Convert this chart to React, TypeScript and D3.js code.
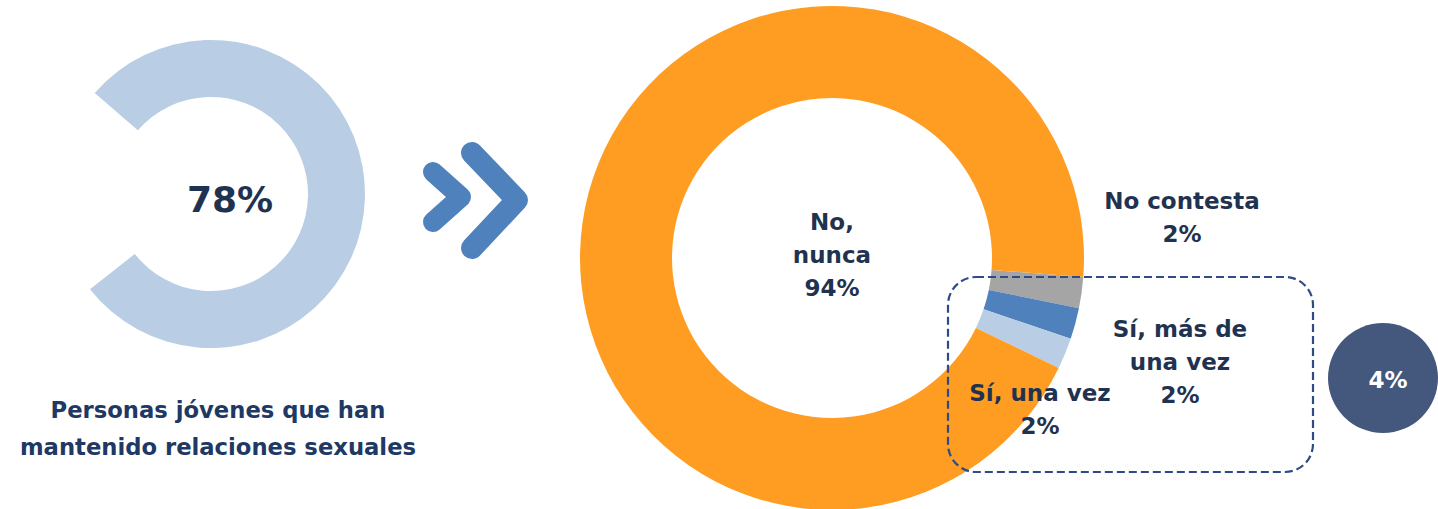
import React from "react";
import * as d3 from "d3";

// ---- data ----
const shareValue = 78; // % of young people who have had sexual relations
const shareLabel = "78%";
const shareCaption = ["Personas jóvenes que han", "mantenido relaciones sexuales"];

const categories = ["No contesta", "Sí, más de una vez", "Sí, una vez", "No, nunca"];
const values = [2, 2, 2, 94];
const valueLabels = ["2%", "2%", "2%", "94%"];
const categoryLines = [["No contesta"], ["Sí, más de", "una vez"], ["Sí, una vez"], ["No,", "nunca"]];
const groupedLabel = "4%";

// ---- styling / layout ----
const colors = ["#a5a5a5", "#4f81bd", "#b9cde5", "#fe9d22"];
const textColor = "#1f3350";
const FONT = "'DejaVu Sans', sans-serif";
const labelPos = [
  { x: 1182, y: 201 },
  { x: 1180, y: 329 },
  { x: 1040, y: 393 },
  { x: 832, y: 222 },
];

export default function App() {
  const deg = Math.PI / 180;

  // left partial ring
  const ringCx = 211, ringCy = 194;
  const ringStart = -49 * deg;
  const ringScale = d3.scaleLinear().domain([0, 100]).range([0, 2 * Math.PI]);
  const ringArc = d3.arc<any>().innerRadius(97).outerRadius(154);
  const ringPath = ringArc({ startAngle: ringStart, endAngle: ringStart + ringScale(shareValue) }) as string;

  // right donut
  const cx = 832, cy = 258;
  const pie = d3.pie<number>().sort(null).startAngle(94.3 * deg).endAngle(94.3 * deg + 2 * Math.PI);
  const arcs = pie(values);
  const arc = d3.arc<d3.PieArcDatum<number>>().innerRadius(160).outerRadius(252);

  const lineH = 33;

  return (
    <svg
      width={1438}
      height={509}
      style={{ position: "absolute", left: 0, top: 0, background: "#fff" }}
      fontFamily={FONT}
      fontWeight="bold"
    >
      {/* left ring */}
      <g transform={`translate(${ringCx},${ringCy})`}>
        <path d={ringPath} fill="#b9cde4" />
      </g>
      <text x={230} y={199} textAnchor="middle" dominantBaseline="central" fontSize={36} fill={textColor}>
        {shareLabel}
      </text>
      {shareCaption.map((t, i) => (
        <text key={i} x={218} y={410 + i * 37} textAnchor="middle" dominantBaseline="central" fontSize={22.7} fill="#203864">
          {t}
        </text>
      ))}

      {/* chevrons */}
      <g fill="none" stroke="#4f81bd" strokeLinecap="round" strokeLinejoin="round">
        <polyline points="433,172 461,197 433,222" strokeWidth={20} />
        <polyline points="472,153 517,200 472,248" strokeWidth={22} />
      </g>

      {/* donut */}
      <g transform={`translate(${cx},${cy})`}>
        {arcs.map((a, i) => (
          <path key={categories[i]} d={arc(a) as string} fill={colors[i]} />
        ))}
      </g>

      {/* dashed grouping box */}
      <rect x={948} y={277} width={365} height={195} rx={28} ry={28} fill="none" stroke="#2f4b87" strokeWidth={2.2} strokeDasharray="8,4" />

      {/* labels */}
      {categories.map((c, i) => {
        const lines = [...categoryLines[i], valueLabels[i]];
        return (
          <g key={c}>
            {lines.map((t, j) => (
              <text
                key={j}
                x={labelPos[i].x}
                y={labelPos[i].y + j * lineH}
                textAnchor="middle"
                dominantBaseline="central"
                fontSize={23}
                fill={textColor}
              >
                {t}
              </text>
            ))}
          </g>
        );
      })}

      {/* grouped bubble */}
      <circle cx={1383} cy={378} r={55} fill="#44577c" />
      <text x={1388} y={380} textAnchor="middle" dominantBaseline="central" fontSize={23} fill="#fff">
        {groupedLabel}
      </text>
    </svg>
  );
}
